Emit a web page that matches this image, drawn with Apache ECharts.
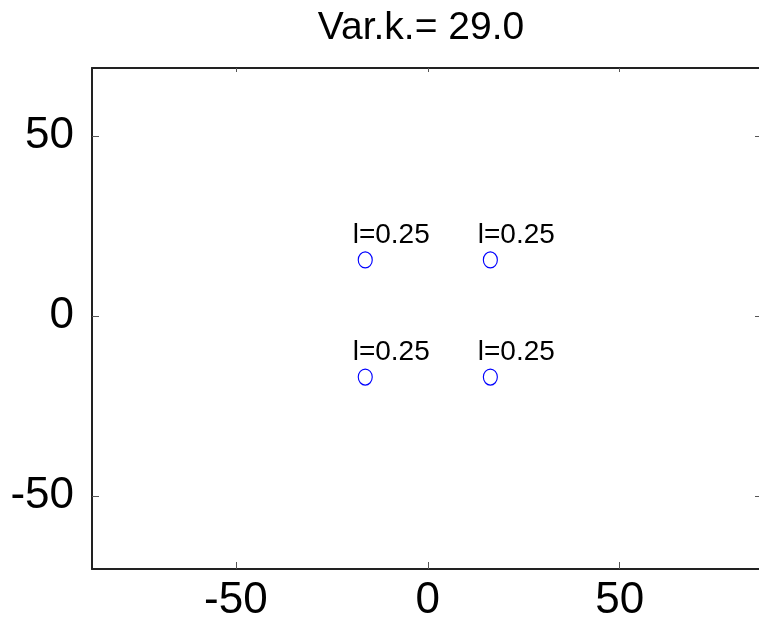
<!DOCTYPE html>
<html>
<head>
<meta charset="utf-8">
<script src="https://cdn.jsdelivr.net/npm/echarts@6/dist/echarts.min.js"></script>
<style>html,body{margin:0;padding:0;background:#fff;}#c{width:759px;height:625px;}</style>
</head>
<body>
<div id="c"></div>
<script>
const titleText = 'Var.k.= 29.0';
const pointX = [-16.3, 16.3, -16.3, 16.3];
const pointY = [15.6, 15.6, -16.9, -16.9];
const pointLabels = ['l=0.25', 'l=0.25', 'l=0.25', 'l=0.25'];
const xTicks = [-50, 0, 50];
const yTicks = [-50, 0, 50];
const xRange = [-87.5, 86.3];
const yRange = [-70.2, 68.9];

const data = pointX.map((x, i) => ({ value: [x, pointY[i]], label: { formatter: pointLabels[i] } }));
const font = 'Liberation Sans, Arial, Helvetica, sans-serif';
const lineCol = '#222';

const chart = echarts.init(document.getElementById('c'), null, { renderer: 'canvas' });
chart.setOption({
  animation: false,
  backgroundColor: '#fff',
  title: {
    text: titleText, left: 416, top: 4, textAlign: 'center',
    textStyle: { fontFamily: font, fontSize: 39, fontWeight: 'normal', color: '#000' }
  },
  grid: { left: 92, right: 0, top: 68, bottom: 56, containLabel: false },
  xAxis: [
    {
      type: 'value', min: xRange[0], max: xRange[1], position: 'bottom',
      axisLine: { show: true, onZero: false, lineStyle: { color: lineCol, width: 2 } },
      axisTick: { show: true, inside: true, length: 7, customValues: xTicks, lineStyle: { color: '#555', width: 1 } },
      axisLabel: { show: true, customValues: xTicks, margin: 10, fontFamily: font, fontSize: 44, color: '#000' },
      splitLine: { show: false }
    },
    {
      type: 'value', min: xRange[0], max: xRange[1], position: 'top',
      axisLine: { show: true, onZero: false, lineStyle: { color: lineCol, width: 2 } },
      axisTick: { show: true, inside: true, length: 4, customValues: xTicks, lineStyle: { color: '#555', width: 1 } },
      axisLabel: { show: false },
      splitLine: { show: false }
    }
  ],
  yAxis: [
    {
      type: 'value', min: yRange[0], max: yRange[1], position: 'left',
      axisLine: { show: true, onZero: false, lineStyle: { color: lineCol, width: 2 } },
      axisTick: { show: true, inside: true, length: 7, customValues: yTicks, lineStyle: { color: '#555', width: 1 } },
      axisLabel: { show: true, customValues: yTicks, margin: 18, fontFamily: font, fontSize: 44, color: '#000' },
      splitLine: { show: false }
    },
    {
      type: 'value', min: yRange[0], max: yRange[1], position: 'right',
      axisLine: { show: false, onZero: false },
      axisTick: { show: true, inside: true, length: 4, customValues: yTicks, lineStyle: { color: '#555', width: 1 } },
      axisLabel: { show: false },
      splitLine: { show: false }
    }
  ],
  series: [{
    type: 'scatter',
    xAxisIndex: 0, yAxisIndex: 0,
    data: data,
    symbol: 'circle',
    symbolSize: [14, 16],
    itemStyle: { color: 'rgba(0,0,0,0)', borderColor: '#0000ff', borderWidth: 1.2, opacity: 1 },
    label: {
      show: true, position: [-5, -16], align: 'left', verticalAlign: 'middle',
      fontFamily: font, fontSize: 28, color: '#000'
    }
  }]
});
</script>
</body>
</html>
